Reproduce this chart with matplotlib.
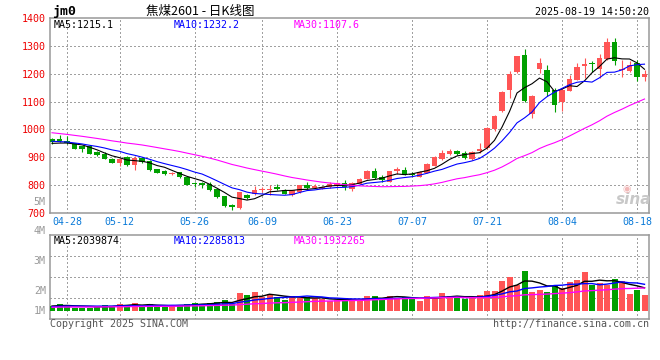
import matplotlib
matplotlib.use('Agg')
import matplotlib.pyplot as plt
import matplotlib.transforms as mtransforms
import numpy as np
import pandas as pd

# trading days shown on the chart
dates = ['04-24', '04-25', '04-28', '04-29', '04-30',
         '05-06', '05-07', '05-08', '05-09', '05-12', '05-13', '05-14', '05-15', '05-16',
         '05-19', '05-20', '05-21', '05-22', '05-23', '05-26', '05-27', '05-28', '05-29', '05-30',
         '06-03', '06-04', '06-05', '06-06', '06-09', '06-10', '06-11', '06-12', '06-13',
         '06-16', '06-17', '06-18', '06-19', '06-20', '06-23', '06-24', '06-25', '06-26', '06-27', '06-30',
         '07-01', '07-02', '07-03', '07-04', '07-07', '07-08', '07-09', '07-10', '07-11',
         '07-14', '07-15', '07-16', '07-17', '07-18', '07-21', '07-22', '07-23', '07-24', '07-25',
         '07-28', '07-29', '07-30', '07-31', '08-01', '08-04', '08-05', '08-06', '08-07', '08-08',
         '08-11', '08-12', '08-13', '08-14', '08-15', '08-18', '08-19']

opens = [967, 964, 958, 951, 940, 939, 919, 913, 895, 880, 901, 871, 898, 887, 857, 851, 840, 846, 829, 806,
         807, 805, 785, 760, 730, 718, 763, 767, 782, 784, 795, 783, 765, 775, 800, 790, 787, 793, 796, 808,
         787, 805, 823, 852, 829, 813, 849, 856, 841, 831, 845, 869, 895, 911, 923, 914, 893, 923, 932, 1000,
         1065, 1140, 1205, 1268, 1054, 1217, 1214, 1143, 1098, 1139, 1179, 1229, 1236, 1217, 1252, 1315, 1213, 1208, 1238, 1188]
highs = [971, 979, 975, 953, 942, 945, 924, 919, 897, 897, 905, 905, 902, 889, 859, 853, 848, 848, 831, 813,
         813, 811, 787, 762, 733, 777, 769, 796, 792, 799, 805, 787, 783, 802, 813, 805, 796, 813, 810, 817,
         810, 825, 854, 860, 835, 851, 866, 866, 847, 850, 881, 903, 926, 931, 926, 923, 922, 952, 1008, 1052,
         1138, 1210, 1264, 1288, 1124, 1258, 1232, 1149, 1149, 1196, 1238, 1256, 1245, 1270, 1327, 1327, 1250, 1244, 1250, 1214]
lows = [948, 955, 949, 928, 919, 911, 906, 893, 878, 869, 869, 854, 881, 852, 843, 838, 836, 827, 799, 792,
        790, 779, 755, 723, 710, 716, 751, 763, 775, 763, 783, 767, 762, 773, 786, 788, 785, 791, 794, 782,
        778, 803, 821, 823, 811, 811, 839, 838, 832, 829, 843, 867, 892, 909, 909, 893, 891, 917, 930, 995,
        1062, 1112, 1203, 1099, 1040, 1202, 1119, 1062, 1066, 1137, 1177, 1185, 1205, 1185, 1250, 1232, 1190, 1205, 1173, 1173]
closes = [955, 957, 951, 931, 929, 913, 910, 895, 880, 895, 871, 899, 883, 854, 845, 840, 843, 829, 801, 805,
          801, 781, 757, 725, 721, 775, 754, 781, 784, 786, 785, 769, 781, 800, 790, 797, 794, 805, 808, 793,
          808, 823, 852, 825, 817, 849, 858, 840, 838, 848, 875, 901, 914, 923, 911, 899, 920, 929, 1006, 1050,
          1136, 1200, 1262, 1101, 1121, 1238, 1133, 1089, 1143, 1182, 1223, 1235, 1234, 1256, 1315, 1246, 1215, 1232, 1187, 1200]
# volume in millions of lots
volumes = [1.47, 1.55, 1.52, 1.43, 1.43, 1.43, 1.48, 1.52, 1.47, 1.55, 1.50, 1.59, 1.45, 1.55, 1.46, 1.45,
           1.52, 1.52, 1.55, 1.58, 1.55, 1.58, 1.63, 1.68, 1.55, 1.92, 1.85, 1.96, 1.77, 1.89, 1.77, 1.68,
           1.83, 1.74, 1.77, 1.74, 1.71, 1.65, 1.68, 1.74, 1.66, 1.66, 1.83, 1.83, 1.74, 1.83, 1.76, 1.77,
           1.71, 1.65, 1.82, 1.76, 1.91, 1.82, 1.76, 1.73, 1.76, 1.85, 1.99, 1.99, 2.32, 2.45, 2.19, 2.67,
           1.96, 2.02, 1.95, 2.19, 2.08, 2.30, 2.36, 2.64, 2.19, 2.27, 2.19, 2.39, 2.33, 1.88, 2.02, 1.85]

# sessions before the window, only used to warm up the moving averages
pre_close = [1045, 1040, 1035, 1030, 1028, 1025, 1020, 1015, 1007,
             1000, 995, 990, 988, 985, 983, 980, 978, 976, 975, 974,
             968, 966, 965, 963, 962, 952, 950, 948, 945]
pre_vol = [1.42, 1.45, 1.40, 1.44, 1.43, 1.41, 1.46, 1.42, 1.44, 1.43, 1.40, 1.45, 1.43, 1.42, 1.44,
           1.46, 1.41, 1.43, 1.42, 1.44, 1.43, 1.45, 1.42, 1.46, 1.44, 1.47, 1.50, 1.49, 1.47]

tick_dates = ['04-28', '05-12', '05-26', '06-09', '06-23', '07-07', '07-21', '08-04', '08-18']
price_ticks = [700, 800, 900, 1000, 1100, 1200, 1300, 1400]
vol_labels = ['5M', '4M', '3M', '2M', '1M']
vol_label_vals = [5, 4, 3, 2, 1]

ma_price_text = ['MA5:1215.1', 'MA10:1232.2', 'MA30:1107.6']
ma_vol_text = ['MA5:2039874', 'MA10:2285813', 'MA30:1932265']

RED = '#ff5555'
GREEN = '#00a000'
GRID = '#a0a0a0'
BORDER = '#999999'
DATEC = '#0a7ad8'
MA_COLORS = ['black', '#0000ff', '#ff00ff']
MONO = 'DejaVu Sans Mono'

W, H = 660, 360
fig = plt.figure(figsize=(6.6, 3.6), dpi=100)
fig.patch.set_facecolor('white')


def px_axes(left, top, right, bottom):
    return fig.add_axes([left / W, 1 - bottom / H, (right - left) / W, (bottom - top) / H])


def dotted(line):
    line.set_dashes((1, 2))
    line.set_antialiased(False)


ax = px_axes(50, 18, 649, 213)
axv = px_axes(50, 234.5, 649, 319)

x = np.arange(len(dates))
o = np.array(opens, float)
h = np.array(highs, float)
l = np.array(lows, float)
c = np.array(closes, float)
v = np.array(volumes, float)
up = c >= o
cols = np.where(up, RED, GREEN)

all_close = pd.Series(pre_close + closes)
all_vol = pd.Series(pre_vol + volumes)
n_pre = len(pre_close)
tick_idx = [dates.index(d) for d in tick_dates]

# ---- price panel
for p in price_ticks[1:-1]:
    dotted(ax.axhline(p, color=GRID, lw=1.0, zorder=1))
for t in tick_idx:
    dotted(ax.axvline(t, color=GRID, lw=1.0, zorder=1))

ax.vlines(x, l, h, colors=cols, lw=0.8, zorder=3)
body_lo = np.minimum(o, c)
body_h = np.maximum(np.abs(c - o), 3.2)
ax.bar(x, body_h, bottom=body_lo, width=0.68, color=cols, lw=0, zorder=4)
for win, col in zip([5, 10, 30], MA_COLORS):
    ma = all_close.rolling(win).mean().values[n_pre:]
    ax.plot(x, ma, color=col, lw=0.8, zorder=5)

ax.set_xlim((50 - 52) / 7.5, (649 - 52) / 7.5)
ax.set_ylim(700, 1400)
ax.set_xticks(tick_idx)
ax.set_xticklabels(tick_dates, color=DATEC, fontsize=7.2, family=MONO)
ax.set_yticks(price_ticks)
ax.set_yticklabels([str(p) for p in price_ticks], color='#ee0000', fontsize=7.2, family=MONO)
ax.tick_params(length=0, pad=3)

for a in (ax, axv):
    for s in a.spines.values():
        s.set_color(BORDER)
        s.set_linewidth(1.1)

# ---- volume panel
vmin, vmax, vbase = 1.044, 3.889, 1.33
for f in (0.25, 0.5, 0.75):
    dotted(axv.axhline(vmin + (vmax - vmin) * f, color=GRID, lw=1.0, zorder=1))
for t in tick_idx:
    dotted(axv.axvline(t, color=GRID, lw=1.0, zorder=1))

axv.bar(x, v - vbase, bottom=vbase, width=0.8, color=cols, lw=0, zorder=3)
for win, col in zip([5, 10, 30], MA_COLORS):
    ma = all_vol.rolling(win).mean().values[n_pre:]
    axv.plot(x, ma, color=col, lw=1.0, zorder=5)
axv.set_xlim(ax.get_xlim())
axv.set_ylim(vmin, vmax)
axv.set_xticks([])
axv.set_yticks([])

trans = mtransforms.blended_transform_factory(axv.transAxes, axv.transData)
for lab, val in zip(vol_labels, vol_label_vals):
    axv.text(-0.007, max(val, vbase), lab, transform=trans, ha='right', va='center',
             color='#999999', fontsize=7.2, family=MONO, clip_on=False)


def ftext(px, py, s, **kw):
    fig.text(px / W, 1 - py / H, s, **kw)


# ---- texts
ftext(52, 12, 'jm0', fontsize=9.5, fontweight='bold', family=MONO, va='center')
ftext(200, 11, '焦煤2601 - 日K线图', fontsize=9, family=['Noto Sans CJK SC', 'DejaVu Sans'],
      ha='center', va='center')
ftext(649, 12, '2025-08-19 14:50:20', fontsize=7.2, family=MONO, ha='right', va='center')

for txt, col, px in zip(ma_price_text, MA_COLORS, [54, 174, 294]):
    ftext(px, 24.5, txt, fontsize=7.2, family=MONO, color=col, va='center')
for txt, col, px in zip(ma_vol_text, MA_COLORS, [54, 174, 294]):
    ftext(px, 240.5, txt, fontsize=7.2, family=MONO, color=col, va='center')

ftext(50, 324, 'Copyright 2025 SINA.COM', fontsize=7.2, family=MONO, color='#555555', va='center')
ftext(649, 324, 'http://finance.sina.com.cn', fontsize=7.2, family=MONO, color='#555555',
      ha='right', va='center')

# watermark
ftext(634, 200, 'sina', fontsize=11, fontweight='bold', style='italic', color='#c8c8c8',
      ha='center', va='center')
ftext(627, 189, '◉', fontsize=7, color='#f2b8b8', ha='center', va='center')

fig.savefig('out.png', dpi=100, facecolor='white')
